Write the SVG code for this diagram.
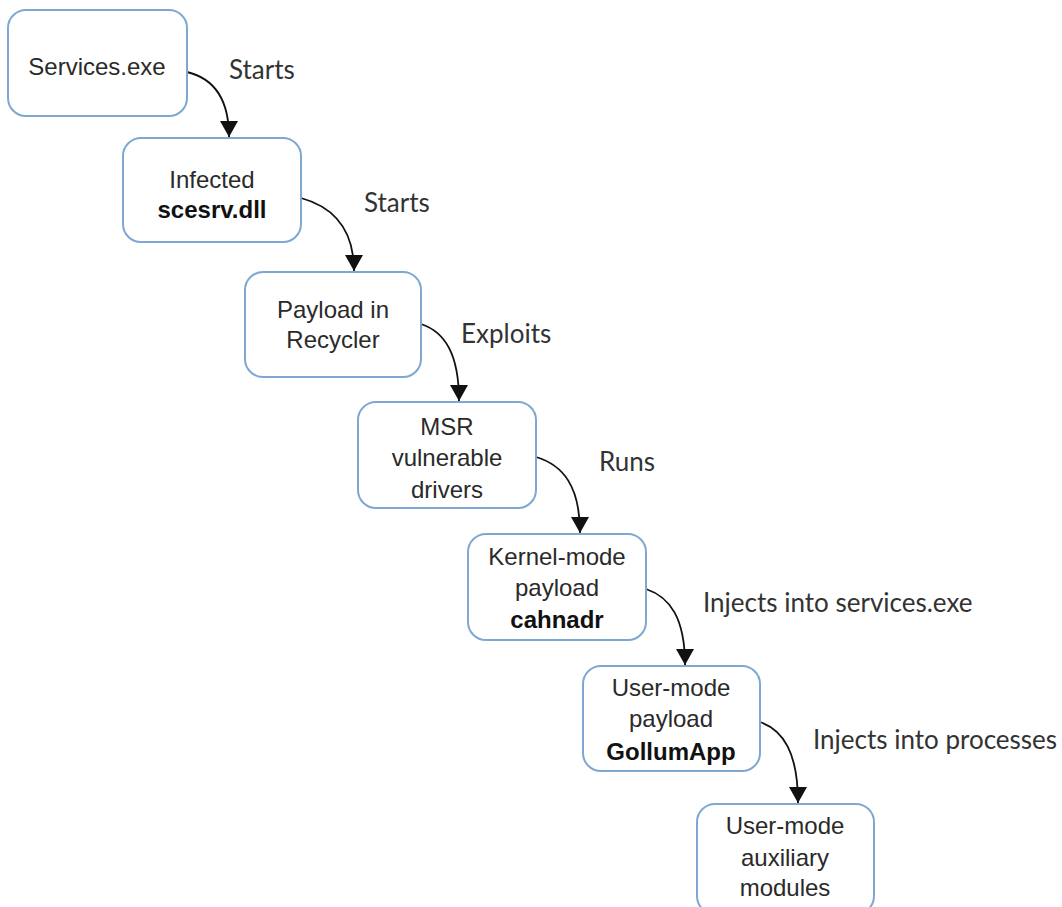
<svg xmlns="http://www.w3.org/2000/svg" width="1062" height="907" viewBox="0 0 1062 907">
<style>
.box{fill:#ffffff;stroke:#7ea8d2;stroke-width:2}
.nt{font-family:"Liberation Sans",Arial,sans-serif;font-size:24px;fill:#2a2a2a;text-anchor:middle}
.b{font-weight:bold;fill:#111}
.lb{font-family:Lato,"Open Sans",sans-serif;font-size:26px;fill:#333}
.c{fill:none;stroke:#111;stroke-width:1.8}
</style>
<defs>
<marker id="arr" viewBox="0 0 16 18" refX="16" refY="9" markerWidth="16" markerHeight="18" orient="auto" markerUnits="userSpaceOnUse">
<path d="M0,0 L16,9 L0,18 Z" fill="#111"/>
</marker>
</defs>
<rect width="1062" height="907" fill="#ffffff"/>
<g id="connectors">
<path class="c" marker-end="url(#arr)" d="M187,72 C212,78 229,96 229,137"/>
<path class="c" marker-end="url(#arr)" d="M301,198 C330,206 354,226 354,271"/>
<path class="c" marker-end="url(#arr)" d="M421,324 C445,332 459,354 459,401"/>
<path class="c" marker-end="url(#arr)" d="M536,457 C563,465 580,486 580,533"/>
<path class="c" marker-end="url(#arr)" d="M646,589 C670,597 685,618 685,665"/>
<path class="c" marker-end="url(#arr)" d="M760,722 C783,730 798,752 798,803"/>
<text class="lb" x="229" y="79">Starts</text>
<text class="lb" x="364" y="212">Starts</text>
<text class="lb" x="461" y="343">Exploits</text>
<text class="lb" x="599" y="471">Runs</text>
<text class="lb" x="703" y="612">Injects into services.exe</text>
<text class="lb" x="813" y="749">Injects into processes</text>
</g>
<g id="n1">
<rect class="box" x="8" y="10" width="179" height="106" rx="18"/>
<text class="nt" x="97" y="75">Services.exe</text>
</g>
<g id="n2">
<rect class="box" x="123" y="138" width="178" height="104" rx="18"/>
<text class="nt" x="212" y="188">Infected</text>
<text class="nt b" x="212" y="218">scesrv.dll</text>
</g>
<g id="n3">
<rect class="box" x="245" y="272" width="176" height="105" rx="18"/>
<text class="nt" x="333" y="318">Payload in</text>
<text class="nt" x="333" y="348">Recycler</text>
</g>
<g id="n4">
<rect class="box" x="358" y="402" width="178" height="106" rx="18"/>
<text class="nt" x="447" y="435">MSR</text>
<text class="nt" x="447" y="466">vulnerable</text>
<text class="nt" x="447" y="498">drivers</text>
</g>
<g id="n5">
<rect class="box" x="468" y="534" width="178" height="106" rx="18"/>
<text class="nt" x="557" y="565">Kernel-mode</text>
<text class="nt" x="557" y="596">payload</text>
<text class="nt b" x="557" y="628">cahnadr</text>
</g>
<g id="n6">
<rect class="box" x="583" y="666" width="177" height="105" rx="18"/>
<text class="nt" x="671" y="696">User-mode</text>
<text class="nt" x="671" y="727">payload</text>
<text class="nt b" x="671" y="760">GollumApp</text>
</g>
<g id="n7">
<rect class="box" x="697" y="804" width="177" height="110" rx="18"/>
<text class="nt" x="785" y="834">User-mode</text>
<text class="nt" x="785" y="866">auxiliary</text>
<text class="nt" x="785" y="896">modules</text>
</g>
</svg>
